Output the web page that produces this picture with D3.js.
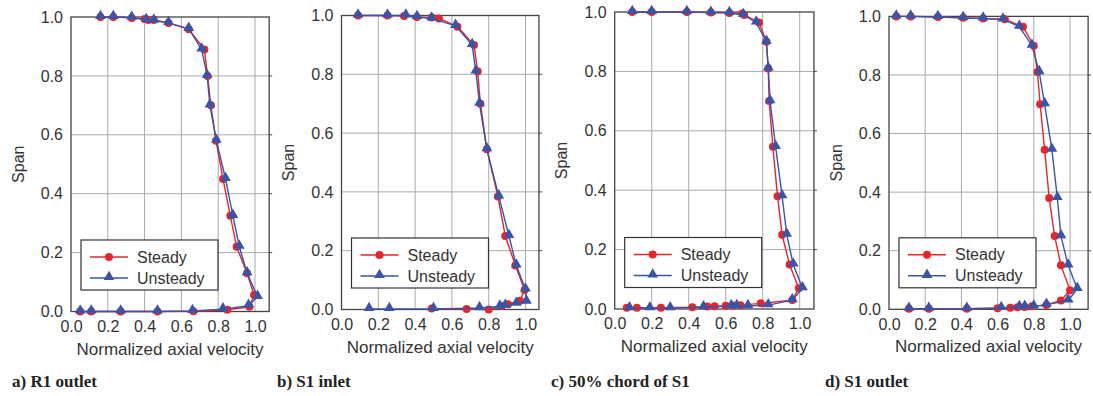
<!DOCTYPE html>
<html lang="en">
<head>
  <meta charset="UTF-8">
  <title>Span vs normalized axial velocity</title>
  <script src="https://d3js.org/d3.v7.min.js"></script>
  <style>
    body {
      margin: 0;
      background: #fff;
      font-family: "Liberation Sans", Arial, sans-serif;
    }
    .tick-label {
      font-size: 16px;
      fill: #333;
    }
    .caption {
      font-family: "Liberation Serif", "Times New Roman", serif;
      font-weight: bold;
      font-size: 17px;
      fill: #222;
    }
  </style>
</head>
<body>

<svg width="1093" height="396"></svg>

<script>
  // tick values shared by all panels
  const xTicks = [0, 0.2, 0.4, 0.6, 0.8, 1.0];
  const yTicks = [0, 0.2, 0.4, 0.6, 0.8, 1.0];
  const seriesNames = ["Steady", "Unsteady"];
  const captions = ["a) R1 outlet", "b) S1 inlet", "c) 50% chord of S1", "d) S1 outlet"];

  // [velocity, span], in drawing order
  const r1OutletSteady = [[0.16,1.0],[0.23,1.0],[0.33,0.997],[0.40,0.993],[0.42,0.99],[0.45,0.99],[0.53,0.98],[0.64,0.958],[0.725,0.89],[0.742,0.80],[0.76,0.70],[0.788,0.58],[0.826,0.45],[0.866,0.325],[0.90,0.22],[0.957,0.13],[0.995,0.056],[0.97,0.016],[0.85,0.006],[0.665,0.001],[0.47,0.0],[0.27,0.0],[0.11,0.0],[0.05,0.0]];
  const r1OutletUnsteady = [[0.16,1.0],[0.23,1.0],[0.33,0.998],[0.41,0.99],[0.45,0.988],[0.53,0.98],[0.64,0.96],[0.71,0.89],[0.74,0.80],[0.755,0.70],[0.79,0.58],[0.84,0.45],[0.88,0.325],[0.915,0.22],[0.957,0.13],[1.014,0.05],[0.965,0.02],[0.826,0.008],[0.66,0.002],[0.47,0.0],[0.27,0.0],[0.11,0.0],[0.05,0.0]];

  const s1InletSteady = [[0.09,1.0],[0.25,1.0],[0.34,0.998],[0.41,0.995],[0.49,0.993],[0.53,0.99],[0.63,0.962],[0.72,0.90],[0.74,0.81],[0.755,0.70],[0.79,0.545],[0.85,0.384],[0.89,0.25],[0.945,0.15],[0.995,0.066],[0.97,0.03],[0.905,0.018],[0.87,0.012],[0.80,0.0],[0.68,0.002],[0.49,0.003]];
  const s1InletUnsteady = [[0.09,1.0],[0.25,1.0],[0.35,1.0],[0.41,0.995],[0.49,0.99],[0.62,0.965],[0.71,0.90],[0.73,0.81],[0.75,0.70],[0.79,0.545],[0.855,0.385],[0.91,0.25],[0.95,0.15],[1.0,0.068],[1.005,0.027],[0.95,0.02],[0.89,0.013],[0.86,0.01],[0.75,0.005],[0.50,0.002],[0.26,0.002],[0.15,0.002]];

  const s1MidSteady = [[0.095,1.0],[0.20,1.0],[0.39,1.0],[0.52,0.998],[0.62,0.997],[0.69,0.995],[0.70,0.99],[0.78,0.965],[0.82,0.90],[0.83,0.81],[0.835,0.70],[0.855,0.546],[0.88,0.38],[0.905,0.25],[0.945,0.15],[0.995,0.07],[0.96,0.03],[0.79,0.019],[0.68,0.013],[0.64,0.012],[0.60,0.011],[0.54,0.009],[0.50,0.008],[0.42,0.006],[0.25,0.004],[0.12,0.004],[0.065,0.004]];
  const s1MidUnsteady = [[0.095,1.0],[0.20,1.0],[0.39,1.0],[0.52,0.998],[0.62,0.997],[0.695,0.99],[0.765,0.965],[0.82,0.90],[0.83,0.81],[0.84,0.70],[0.87,0.546],[0.905,0.38],[0.93,0.25],[0.965,0.15],[1.015,0.07],[0.96,0.03],[0.83,0.013],[0.72,0.01],[0.66,0.01],[0.63,0.01],[0.48,0.006],[0.30,0.003],[0.19,0.003],[0.08,0.003]];

  const s1OutletSteady = [[0.04,1.0],[0.12,1.0],[0.27,0.998],[0.41,0.995],[0.52,0.993],[0.64,0.99],[0.74,0.965],[0.80,0.90],[0.82,0.81],[0.835,0.70],[0.86,0.545],[0.885,0.38],[0.915,0.25],[0.95,0.15],[1.0,0.065],[0.95,0.03],[0.87,0.015],[0.79,0.01],[0.75,0.008],[0.71,0.007],[0.67,0.005],[0.60,0.004],[0.43,0.002],[0.22,0.002],[0.11,0.002]];
  const s1OutletUnsteady = [[0.04,1.0],[0.12,1.0],[0.27,0.998],[0.41,0.995],[0.52,0.993],[0.63,0.99],[0.72,0.965],[0.79,0.90],[0.83,0.81],[0.86,0.70],[0.90,0.545],[0.93,0.38],[0.95,0.25],[0.99,0.15],[1.04,0.07],[0.99,0.03],[0.87,0.016],[0.80,0.01],[0.75,0.009],[0.72,0.008],[0.62,0.005],[0.43,0.002],[0.22,0.002],[0.11,0.002]];

  const red = "#e5262c";
  const blue = "#3b54a5";

  // layout of the four panels
  const panels = [
    { left: 71,  top: 17, bottom: 311.5, xMax: 1.077, capX: 12,  steady: r1OutletSteady, unsteady: r1OutletUnsteady },
    { left: 341.5, top: 15.5, bottom: 309.5, xMax: 1.073, capX: 277, steady: s1InletSteady, unsteady: s1InletUnsteady },
    { left: 614.7, top: 12, bottom: 309, xMax: 1.077, capX: 551, steady: s1MidSteady, unsteady: s1MidUnsteady },
    { left: 889, top: 16.4, bottom: 309.3, xMax: 1.1, capX: 825, steady: s1OutletSteady, unsteady: s1OutletUnsteady }
  ];
  const unitPx = [184, 184, 185, 181];

  const svg = d3.select("svg");

  panels.forEach((p, i) => {
    const right = p.left + p.xMax * unitPx[i];
    const x = d3.scaleLinear().domain([0, p.xMax]).range([p.left, right]);
    const y = d3.scaleLinear().domain([0, 1]).range([p.bottom, p.top]);
    const g = svg.append("g");

    // grid
    g.append("g").selectAll("line")
      .data(xTicks.filter(t => t > 0))
      .join("line")
      .attr("x1", d => x(d)).attr("x2", d => x(d))
      .attr("y1", p.top).attr("y2", p.bottom)
      .attr("stroke", "#aaaaaa").attr("stroke-width", 1);
    g.append("g").selectAll("line")
      .data(yTicks.filter(t => t > 0 && t < 1))
      .join("line")
      .attr("x1", p.left).attr("x2", right)
      .attr("y1", d => y(d)).attr("y2", d => y(d))
      .attr("stroke", "#aaaaaa").attr("stroke-width", 1);

    // frame
    g.append("rect")
      .attr("x", p.left).attr("y", p.top)
      .attr("width", right - p.left).attr("height", p.bottom - p.top)
      .attr("fill", "none").attr("stroke", "#444").attr("stroke-width", 1.3);

    // small ticks on right edge
    g.append("g").selectAll("line")
      .data(yTicks.filter(t => t > 0 && t < 1))
      .join("line")
      .attr("x1", right).attr("x2", right + 3)
      .attr("y1", d => y(d)).attr("y2", d => y(d))
      .attr("stroke", "#444").attr("stroke-width", 1);

    // axes labels
    const xAxis = d3.axisBottom(x).tickValues(xTicks).tickFormat(d3.format(".1f")).tickSize(0).tickPadding(9);
    const xg = g.append("g").attr("transform", `translate(0,${p.bottom})`).call(xAxis);
    const yAxis = d3.axisLeft(y).tickValues(yTicks).tickFormat(d3.format(".1f")).tickSize(0).tickPadding(8);
    const yg = g.append("g").attr("transform", `translate(${p.left},0)`).call(yAxis);
    [xg, yg].forEach(a => {
      a.select(".domain").remove();
      a.selectAll("text").attr("class", "tick-label").attr("font-size", null).attr("font-family", null);
    });

    g.append("text")
      .attr("transform", `translate(${p.left - 53},${(p.top + p.bottom) / 2}) rotate(-90)`)
      .attr("text-anchor", "middle").attr("dy", "0.35em")
      .attr("font-size", 16).attr("fill", "#333")
      .text("Span");

    g.append("text")
      .attr("x", (p.left + right) / 2).attr("y", p.bottom + 43)
      .attr("text-anchor", "middle")
      .attr("font-size", 17).attr("fill", "#333")
      .text("Normalized axial velocity");

    g.append("text")
      .attr("class", "caption")
      .attr("x", p.capX).attr("y", 387)
      .text(captions[i]);

    // series
    const line = d3.line().x(d => x(d[0])).y(d => y(d[1]));
    g.append("path").datum(p.steady)
      .attr("d", line).attr("fill", "none").attr("stroke", red).attr("stroke-width", 1.4);
    g.append("g").selectAll("circle")
      .data(p.steady)
      .join("circle")
      .attr("cx", d => x(d[0])).attr("cy", d => y(d[1]))
      .attr("r", 4).attr("fill", red);

    g.append("path").datum(p.unsteady)
      .attr("d", line).attr("fill", "none").attr("stroke", blue).attr("stroke-width", 1.4);
    const tri = d3.symbol().type(d3.symbolTriangle).size(50);
    g.append("g").selectAll("path")
      .data(p.unsteady)
      .join("path")
      .attr("d", tri)
      .attr("transform", d => `translate(${x(d[0])},${y(d[1]) - 1})`)
      .attr("fill", blue);

    // legend
    const lx = p.left + 10, ly = p.bottom - 71.5;
    const lg = g.append("g").attr("transform", `translate(${lx},${ly})`);
    lg.append("rect")
      .attr("width", 137).attr("height", 50)
      .attr("fill", "#fff").attr("stroke", "#333").attr("stroke-width", 1.2);
    seriesNames.forEach((name, k) => {
      const row = 17 + k * 21;
      const c = k === 0 ? red : blue;
      lg.append("line")
        .attr("x1", 9).attr("x2", 47).attr("y1", row).attr("y2", row)
        .attr("stroke", c).attr("stroke-width", 1.4);
      if (k === 0) {
        lg.append("circle").attr("cx", 28).attr("cy", row).attr("r", 4).attr("fill", c);
      } else {
        lg.append("path").attr("d", tri).attr("transform", `translate(28,${row - 1})`).attr("fill", c);
      }
      lg.append("text")
        .attr("x", 56).attr("y", row).attr("dy", "0.35em")
        .attr("font-size", 16).attr("fill", "#333")
        .text(name);
    });
  });
</script>

</body>
</html>
